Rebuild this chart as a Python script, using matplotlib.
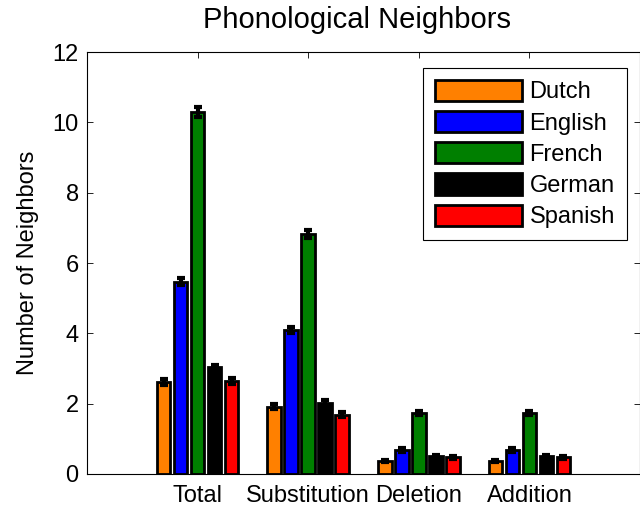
import numpy as np
import matplotlib
matplotlib.use("Agg")
import matplotlib.pyplot as plt

plt.rcParams["font.family"] = ["Liberation Sans", "DejaVu Sans"]

categories = ["Total", "Substitution", "Deletion", "Addition"]
languages = ["Dutch", "English", "French", "German", "Spanish"]
colors = ["#ff8000", "#0000ff", "#007f00", "#000000", "#ff0000"]

# mean number of neighbors per language, one list per category order above
dutch = [2.61, 1.91, 0.37, 0.37]
english = [5.47, 4.09, 0.68, 0.68]
french = [10.30, 6.82, 1.74, 1.74]
german = [3.03, 2.03, 0.51, 0.51]
spanish = [2.64, 1.68, 0.47, 0.47]

dutch_err = [0.08, 0.07, 0.04, 0.04]
english_err = [0.10, 0.09, 0.05, 0.05]
french_err = [0.15, 0.12, 0.06, 0.06]
german_err = [0.08, 0.07, 0.04, 0.04]
spanish_err = [0.08, 0.07, 0.04, 0.04]

series = [dutch, english, french, german, spanish]
errors = [dutch_err, english_err, french_err, german_err, spanish_err]

fig = plt.figure(figsize=(6.4, 5.11), dpi=100)
ax = fig.add_axes([87 / 640, 1 - 474 / 511, 553 / 640, 422 / 511])

x = np.arange(1, len(categories) + 1)
slot = 0.154
width = 0.123
for i, (vals, errs) in enumerate(zip(series, errors)):
  pos = x + (i - 2) * slot
  ax.bar(pos, vals, width, color=colors[i], edgecolor="black", linewidth=2,
         label=languages[i], zorder=2)
  ax.errorbar(pos, vals, yerr=errs, fmt="none", ecolor="black", elinewidth=3,
              capsize=3, capthick=3, zorder=3)

ax.set_xlim(0, 5)
ax.set_ylim(0, 12)
ax.set_yticks(range(0, 13, 2))
ax.set_xticks(x)
ax.set_xticklabels(categories)
ax.tick_params(direction="in", top=True, right=True, labelsize=17, length=4, width=0.6)
ax.tick_params(axis="x", pad=8)
ax.tick_params(axis="y", pad=6)
for s in ax.spines.values():
  s.set_linewidth(0.8)
ax.set_ylabel("Number of Neighbors", fontsize=17, labelpad=10)
ax.set_title("Phonological Neighbors", fontsize=21, pad=17, x=0.489)

leg = ax.legend(loc="upper right", bbox_to_anchor=(0.976, 0.962), fontsize=17,
                handlelength=3.7, handleheight=1.0, labelspacing=0.32,
                handletextpad=0.3, borderpad=0.5, borderaxespad=0,
                fancybox=False, framealpha=1)
leg.get_frame().set_edgecolor("black")
leg.get_frame().set_linewidth(0.8)

fig.savefig("out.png", dpi=100)
